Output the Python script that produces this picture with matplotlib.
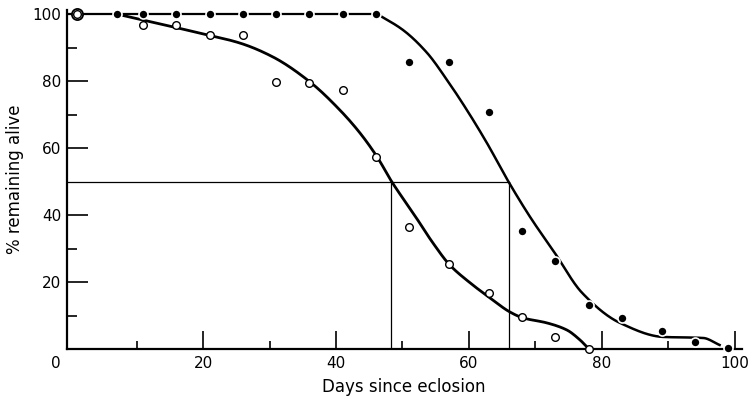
import matplotlib

matplotlib.use('Agg')
import matplotlib.pyplot as plt
import matplotlib.transforms as mtransforms
import numpy as np

# Survival counts (percent alive) for the two groups
open_days = [1, 11, 16, 21, 26, 31, 36, 41, 46, 51, 57, 63, 68, 73, 78]
open_alive = [100, 96.7, 96.6, 93.7, 93.7, 79.7, 79.4, 77.3, 57.3, 36.4, 25.4, 16.7, 9.6, 3.6, 0]

filled_days = [1, 7, 11, 16, 21, 26, 31, 36, 41, 46, 51, 57, 63, 68, 73, 78, 83, 89, 94, 99]
filled_alive = [100, 100, 100, 100, 100, 100, 100, 100, 100, 100,
                85.7, 85.7, 70.7, 35.2, 26.3, 13.1, 9.3, 5.4, 2.1, 0.3]

# Hand-fitted survival curves (knots along each drawn curve)
open_curve_days = [7, 11, 19.5, 25.6, 30.5, 36.1, 40.6, 43.6, 46.2, 48.4, 51.6, 54.6,
                   57.1, 60.2, 63.2, 66.2, 68.1, 71.7, 74.7, 76.7, 77.9]
open_curve_alive = [100, 98.2, 94.3, 91.3, 87.2, 79.7, 71.3, 64.5, 57.3, 49.9, 40.6, 31.6,
                    25.1, 19.7, 15.2, 11.0, 9.3, 7.8, 5.7, 2.7, 0.3]

filled_curve_days = [46.2, 50.1, 53.7, 56.7, 59.7, 62.7, 65.9, 69.2, 72.9, 77.0,
                     82.7, 89.2, 95.2, 97.7]
filled_curve_alive = [100, 95.2, 88.4, 80.3, 71.3, 61.5, 50.1, 39.4, 28.7, 16.8,
                      7.8, 3.6, 3.3, 1.2]

# Median survival (50 % remaining)
half_level = 50
open_half_day = 48.3
filled_half_day = 66

x_ticks = [0, 20, 40, 60, 80, 100]
y_ticks = [20, 40, 60, 80, 100]


def pchip(x, y, xs):
    """Monotone cubic through the knots, evaluated at xs."""
    x = np.asarray(x, float)
    y = np.asarray(y, float)
    h = np.diff(x)
    d = np.diff(y) / h
    m = np.zeros_like(y)
    for k in range(1, len(x) - 1):
        if d[k - 1] * d[k] > 0:
            w1 = 2 * h[k] + h[k - 1]
            w2 = h[k] + 2 * h[k - 1]
            m[k] = (w1 + w2) / (w1 / d[k - 1] + w2 / d[k])
    m[0] = d[0]
    m[-1] = d[-1]
    i = np.clip(np.searchsorted(x, xs) - 1, 0, len(h) - 1)
    t = (xs - x[i]) / h[i]
    h00 = 2 * t**3 - 3 * t**2 + 1
    h10 = t**3 - 2 * t**2 + t
    h01 = -2 * t**3 + 3 * t**2
    h11 = t**3 - t**2
    return h00 * y[i] + h10 * h[i] * m[i] + h01 * y[i + 1] + h11 * h[i] * m[i + 1]


plt.rcParams['font.family'] = ['DejaVu Sans']

fig = plt.figure(figsize=(7.54, 4.0), dpi=100)
ax = fig.add_axes([0.0885, 0.1275, 0.895, 0.8475])
ax.set_xlim(-0.5, 101)
ax.set_ylim(0, 101.2)

# Median guide lines
ax.plot([-0.5, filled_half_day], [half_level, half_level], color='black', lw=0.9, zorder=1)
ax.plot([open_half_day, open_half_day], [0, half_level], color='black', lw=0.9, zorder=1)
ax.plot([filled_half_day, filled_half_day], [0, half_level], color='black', lw=0.9, zorder=1)

# Fitted curves
xs = np.linspace(open_curve_days[0], open_curve_days[-1], 400)
ax.plot(xs, pchip(open_curve_days, open_curve_alive, xs), color='black', lw=2.0, zorder=2)
xs = np.linspace(filled_curve_days[0], filled_curve_days[-1], 400)
ax.plot(xs, pchip(filled_curve_days, filled_curve_alive, xs), color='black', lw=1.8, zorder=2)

# Plateau of the filled group, joined point to point
n_flat = filled_alive.count(100)
ax.plot([-0.5] + filled_days[:n_flat], [100] + filled_alive[:n_flat], color='black', lw=1.6,
        zorder=2)

# Observations
ax.plot(filled_days, filled_alive, 'o', ms=6.5, mfc='black', mec='white', mew=1.2,
        zorder=4, clip_on=False)
ax.plot(open_days, open_alive, 'o', ms=5.5, mfc='white', mec='black', mew=1.0,
        zorder=5, clip_on=False)
ax.plot(open_days[0], open_alive[0], 'o', ms=8, mfc='none', mec='black', mew=1.3,
        zorder=5, clip_on=False)

# Axes styling
for side in ('top', 'right'):
    ax.spines[side].set_visible(False)
for side in ('left', 'bottom'):
    ax.spines[side].set_linewidth(1.6)

ax.set_xticks(x_ticks)
ax.set_xticks([10, 30, 50, 70, 90], minor=True)
ax.set_yticks(y_ticks)
ax.set_yticks([10, 30, 70, 90], minor=True)
ax.set_xticklabels([str(v) for v in x_ticks])
ax.set_yticklabels([str(v) for v in y_ticks])

ax.tick_params(axis='x', which='major', direction='in', length=13, width=1.2,
               labelsize=11, pad=5)
ax.tick_params(axis='x', which='minor', direction='in', length=6, width=1.2)
ax.tick_params(axis='y', which='major', direction='in', length=15, width=1.2,
               labelsize=11, pad=4)
ax.tick_params(axis='y', which='minor', direction='in', length=7.5, width=1.2)

# No tick mark at the origin; its label sits left of the corner
ax.xaxis.get_major_ticks()[0].tick1line.set_visible(False)
zero_label = ax.get_xticklabels()[0]
zero_label.set_transform(zero_label.get_transform()
                         + mtransforms.ScaledTranslation(-14 / 100, 0, fig.dpi_scale_trans))

ax.set_xlabel('Days since eclosion', fontsize=12, labelpad=5)
ax.set_ylabel('% remaining alive', fontsize=12, labelpad=6)

fig.savefig('out.png', dpi=100)
